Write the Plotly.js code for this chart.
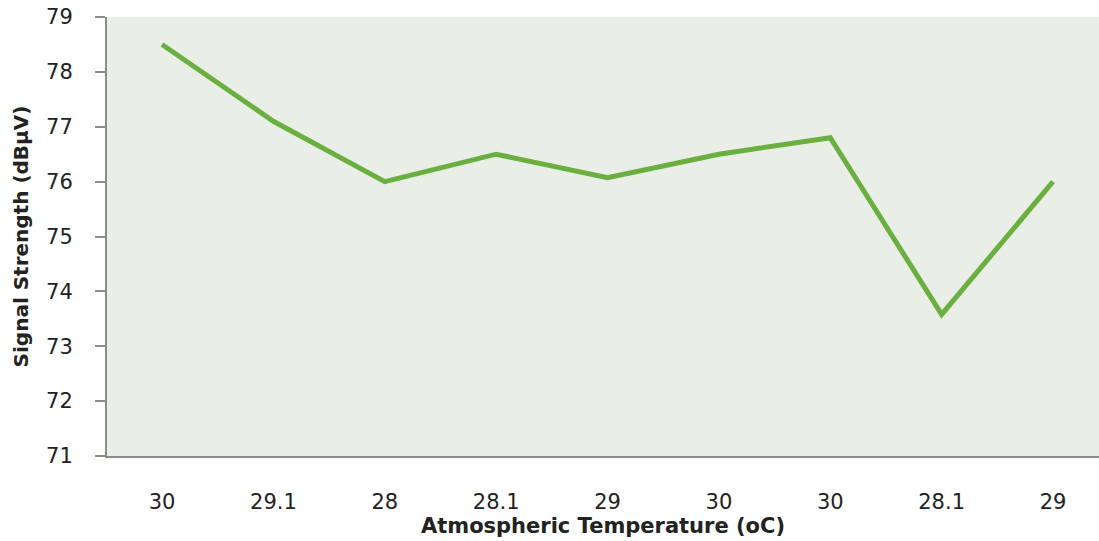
<!DOCTYPE html>
<html>
<head>
<meta charset="utf-8">
<script src="https://cdn.plot.ly/plotly-3.0.1.min.js"></script>
<style>html,body{margin:0;padding:0;background:#fff;}#chart{width:1099px;height:541px;}</style>
</head>
<body>
<div id="chart"></div>
<script>
const categories = ["30", "29.1", "28", "28.1", "29", "30", "30", "28.1", "29"];
const signalStrength = [78.5, 77.1, 76.0, 76.5, 76.07, 76.5, 76.8, 73.58, 76.0];
const yTicks = [71, 72, 73, 74, 75, 76, 77, 78, 79];

const positions = categories.map((c, i) => i);

const trace = {
  x: positions,
  y: signalStrength,
  type: "scatter",
  mode: "lines",
  line: {color: "#6aaf40", width: 5},
  hoverinfo: "y"
};

const layout = {
  width: 1099,
  height: 541,
  margin: {l: 107, r: 0, t: 17, b: 85},
  paper_bgcolor: "#ffffff",
  plot_bgcolor: "#e9eee7",
  showlegend: false,
  font: {family: "DejaVu Sans, sans-serif", color: "#222"},
  xaxis: {
    range: [-0.494, 8.413],
    tickvals: positions,
    ticktext: categories,
    showgrid: false,
    zeroline: false,
    showline: true,
    linecolor: "#8c8c8c",
    linewidth: 2,
    ticks: "",
    ticklabelstandoff: 26,
    tickfont: {size: 21, color: "#222"},
    title: {text: "Atmospheric Temperature (oC)", font: {size: 21, color: "#222", weight: "bold"}, standoff: 0}
  },
  yaxis: {
    range: [71, 79],
    tickvals: yTicks,
    showgrid: false,
    zeroline: false,
    showline: true,
    linecolor: "#8c8c8c",
    linewidth: 2,
    ticks: "outside",
    ticklen: 10,
    tickwidth: 2,
    tickcolor: "#8c8c8c",
    ticklabelstandoff: 18,
    tickfont: {size: 21, color: "#222"},
    title: {text: "Signal Strength (dBµV)", font: {size: 20, color: "#222", weight: "bold"}, standoff: 12}
  }
};

Plotly.newPlot("chart", [trace], layout, {displayModeBar: false, staticPlot: true});
</script>
</body>
</html>
